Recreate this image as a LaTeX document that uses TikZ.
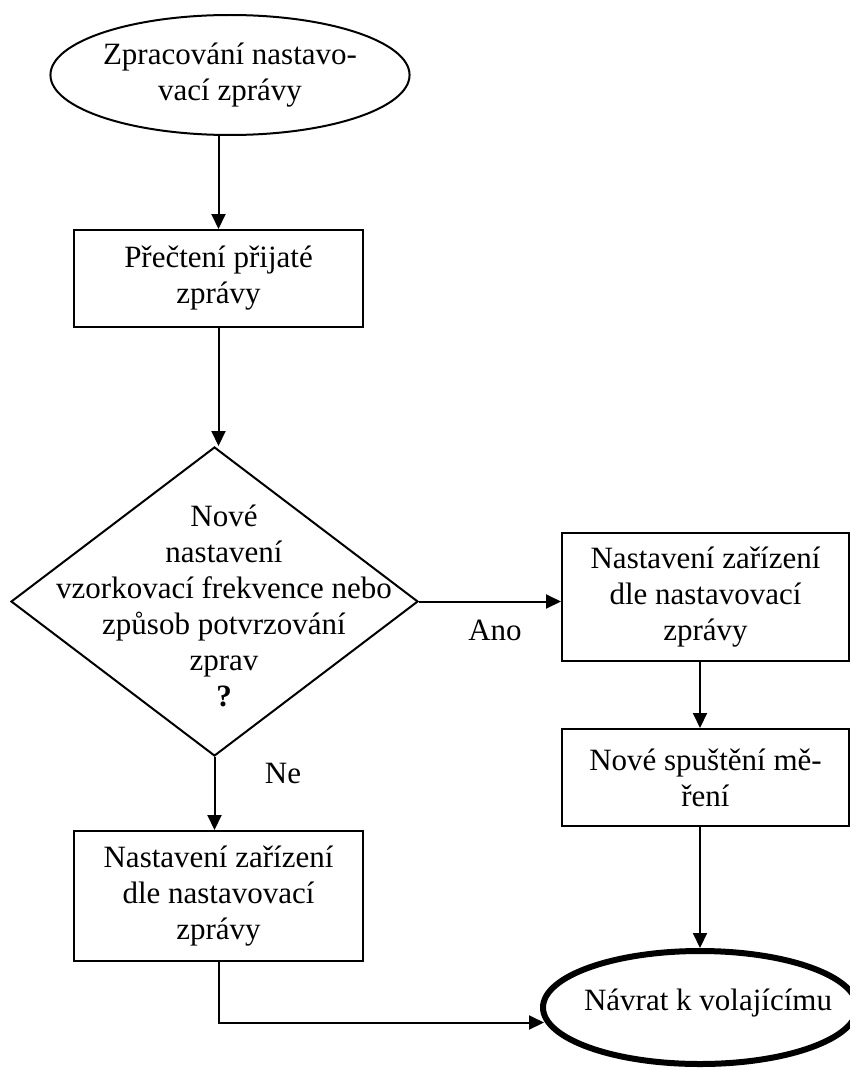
\documentclass[tikz,border=0pt]{standalone}
\usepackage{fontspec}
\setmainfont{Liberation Serif}
\usetikzlibrary{shapes.geometric,arrows.meta}
\begin{document}
\begin{tikzpicture}[x=1pt,y=-1pt,
  every node/.style={font=\fontsize{31}{36}\selectfont, align=center, inner sep=0pt},
  procbox/.style={draw, rectangle, line width=2pt},
  startterm/.style={draw, ellipse, line width=2pt},
  endterm/.style={draw, ellipse, line width=6pt},
  decbox/.style={draw, diamond, line width=2pt},
  conn/.style={line width=2pt, -{Triangle[length=15pt,width=14pt]}}]
\useasboundingbox (0,0) rectangle (850,1070);
\clip (0,0) rectangle (850,1070);

% nodes
\node[startterm, minimum width=313pt, minimum height=120pt] (start) at (230,75)
  {Zpracování nastavo-\\vací zprávy};
\node[procbox, minimum width=289pt, minimum height=97pt] (read) at (218.5,278.5)
  {Přečtení přijaté\\zprávy};
\node[decbox, minimum width=407pt, minimum height=309pt] (dec) at (214.5,601.5) {};
\node (dectxt) at (224,606)
  {Nové\\nastavení\\vzorkovací frekvence nebo\\způsob potvrzování\\zprav\\\textbf{?}};
\node[procbox, minimum width=287pt, minimum height=128pt] (setR) at (705.5,597)
  {Nastavení zařízení\\dle nastavovací\\zprávy};
\node[procbox, minimum width=287pt, minimum height=97pt] (restart) at (705.5,777.5)
  {Nové spuštění mě-\\ření};
\node[procbox, minimum width=289pt, minimum height=130pt] (setL) at (218.5,896)
  {Nastavení zařízení\\dle nastavovací\\zprávy};
\node[endterm, minimum width=314pt, minimum height=113pt] (ret) at (700,1007.5) {};
\node (rettxt) at (708,1003) {Návrat k volajícímu};

% labels
\node (ano) at (495,630) {Ano};
\node (ne) at (283,773) {Ne};

% connectors
\draw[conn] (read.north |- start.south) -- (read.north);
\draw[conn] (read.south) -- (read.south |- dec.north);
\draw[conn] (dec.east) -- (dec.east -| setR.west);
\draw[conn] (dec.south) -- (dec.south |- setL.north);
\draw[conn] (setR.south -| ret.north) -- (restart.north -| ret.north);
\draw[conn] (restart.south -| ret.north) -- (ret.north);
\draw[conn] (setL.south) |- ([yshift=-15pt,xshift=4pt]ret.west);
\end{tikzpicture}
\end{document}
